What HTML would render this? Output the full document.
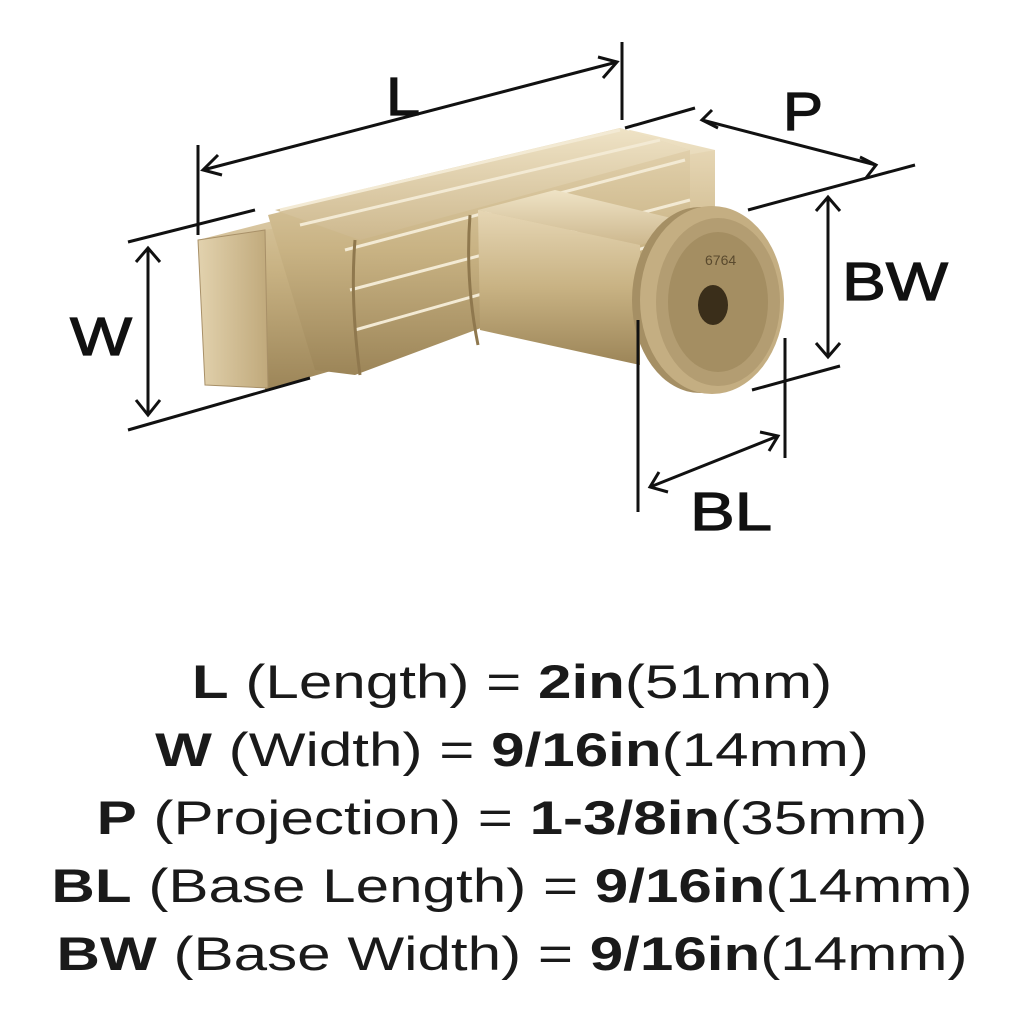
<!DOCTYPE html>
<html><head><meta charset="utf-8"><style>
html,body{margin:0;padding:0;background:#fff;}
body{width:1024px;height:1024px;position:relative;overflow:hidden;font-family:"Liberation Sans",sans-serif;}
.spec{position:absolute;left:0;width:1024px;text-align:center;font-size:47px;color:#1a1a1a;line-height:68px;transform:scaleX(1.28);transform-origin:512px 0;}
.spec b{font-weight:bold;}
</style></head><body>
<svg width="1024" height="620" style="position:absolute;left:0;top:0">
<defs>
<linearGradient id="g1" x1="0" y1="0" x2="0" y2="1"><stop offset="0" stop-color="#e6d6b4"/><stop offset="0.5" stop-color="#c8b283"/><stop offset="1" stop-color="#9c8558"/></linearGradient>
<linearGradient id="g2" x1="0" y1="0" x2="1" y2="0"><stop offset="0" stop-color="#e2d2ae"/><stop offset="1" stop-color="#c0a97b"/></linearGradient>
<linearGradient id="g3" x1="0" y1="0" x2="0" y2="1"><stop offset="0" stop-color="#efe3c6"/><stop offset="1" stop-color="#cdb88e"/></linearGradient>
</defs>
<polygon points="198,240 630,130 715,150 715,165 265,270" fill="url(#g3)"/>
<polygon points="265,230 715,150 715,260 265,390" fill="url(#g1)"/>
<polygon points="198,240 265,230 268,388 205,385" fill="url(#g2)" stroke="#a89068" stroke-width="1"/>
<polygon points="268,215 620,128 690,150 690,250 355,375 315,370" fill="url(#g1)"/>
<polygon points="275,210 620,128 690,150 360,240" fill="url(#g3)"/>
<path d="M280,210 L620,130 M300,225 L660,140 M345,250 L685,160 M350,290 L690,200 M355,330 L690,235" stroke="#f3ead4" stroke-width="3" fill="none"/>
<path d="M355,240 Q350,300 360,375 M470,215 Q465,280 478,345" stroke="#8f784e" stroke-width="3" fill="none"/>
<polygon points="478,210 555,190 700,225 640,245" fill="url(#g3)"/>
<polygon points="478,210 640,245 640,365 480,330" fill="url(#g1)"/>
<ellipse cx="700" cy="300" rx="68" ry="93" fill="#a58f64"/>
<ellipse cx="712" cy="300" rx="72" ry="94" fill="#c4ae82"/>
<ellipse cx="718" cy="302" rx="62" ry="84" fill="#b39d72"/>
<ellipse cx="718" cy="302" rx="50" ry="70" fill="#a48e62"/>
<ellipse cx="713" cy="305" rx="15" ry="20" fill="#3a2e1a"/>
<text x="705" y="265" font-size="14" fill="#5a4a2e" font-family="Liberation Sans">6764</text>
<g stroke="#111" stroke-width="3" fill="none">
<line x1="198" y1="145" x2="198" y2="235"/><line x1="622" y1="42" x2="622" y2="120"/>
<line x1="203" y1="170" x2="617" y2="62"/>
<polyline points="218,155 203,170 222,175"/><polyline points="598,57 617,62 603,78"/>
<line x1="128" y1="242" x2="255" y2="210"/><line x1="128" y1="430" x2="310" y2="378"/>
<line x1="148" y1="248" x2="148" y2="415"/>
<polyline points="136,262 148,248 160,262"/><polyline points="136,400 148,415 160,400"/>
<line x1="625" y1="128" x2="695" y2="108"/><line x1="748" y1="210" x2="915" y2="165"/>
<line x1="702" y1="120" x2="876" y2="165"/>
<polyline points="712,110 702,120 718,128"/><polyline points="860,157 876,165 866,178"/>
<line x1="828" y1="197" x2="828" y2="357"/>
<polyline points="816,211 828,197 840,211"/><polyline points="816,343 828,357 840,343"/>
<line x1="752" y1="390" x2="840" y2="366"/>
<line x1="638" y1="320" x2="638" y2="512"/><line x1="785" y1="338" x2="785" y2="458"/>
<line x1="650" y1="487" x2="778" y2="436"/>
<polyline points="668,492 650,487 659,472"/><polyline points="760,432 778,436 769,451"/>
</g>
<g font-family="Liberation Sans" font-size="54" fill="#111" stroke="#111" stroke-width="1.2">
<text x="386" y="115" textLength="34" lengthAdjust="spacingAndGlyphs">L</text>
<text x="783" y="130" textLength="40" lengthAdjust="spacingAndGlyphs">P</text>
<text x="70" y="355" textLength="62" lengthAdjust="spacingAndGlyphs">W</text>
<text x="842" y="300" textLength="106" lengthAdjust="spacingAndGlyphs">BW</text>
<text x="690" y="530" textLength="82" lengthAdjust="spacingAndGlyphs">BL</text>
</g>
</svg>
<div class="spec" style="top:648px"><b>L</b> (Length) = <b>2in</b>(51mm)</div>
<div class="spec" style="top:716px"><b>W</b> (Width) = <b>9/16in</b>(14mm)</div>
<div class="spec" style="top:784px"><b>P</b> (Projection) = <b>1-3/8in</b>(35mm)</div>
<div class="spec" style="top:852px"><b>BL</b> (Base Length) = <b>9/16in</b>(14mm)</div>
<div class="spec" style="top:920px"><b>BW</b> (Base Width) = <b>9/16in</b>(14mm)</div>
</body></html>
